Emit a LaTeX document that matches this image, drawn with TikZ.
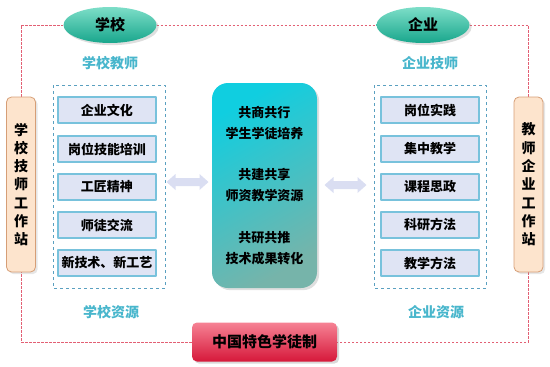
\documentclass[tikz,border=0pt]{standalone}
\usepackage{fontspec}
\newfontfamily\cjk{Noto Sans CJK SC}
\usetikzlibrary{shapes.geometric,shadows,backgrounds}
\definecolor{ellTop}{RGB}{125,222,200}
\definecolor{ellBot}{RGB}{24,166,140}
\definecolor{blueText}{RGB}{72,182,204}
\definecolor{itemFill}{RGB}{223,228,244}
\definecolor{itemLine}{RGB}{120,194,220}
\definecolor{boxLine}{RGB}{90,160,192}
\definecolor{staFill}{RGB}{253,228,205}
\definecolor{staLine}{RGB}{214,158,118}
\definecolor{midA}{RGB}{16,206,224}
\definecolor{midB}{RGB}{118,180,170}
\definecolor{redTop}{RGB}{246,130,148}
\definecolor{redBot}{RGB}{214,24,58}
\definecolor{loopLine}{RGB}{226,96,116}
\definecolor{arrFill}{RGB}{218,222,242}
\begin{document}
\begin{tikzpicture}[x=1pt, y=-1pt, line join=round,
    font=\cjk\bfseries\fontsize{13}{15}\selectfont,
    xiao/.style={ellipse, minimum width=93pt, minimum height=36pt, inner sep=0pt,
      top color=ellTop, bottom color=ellBot, drop shadow={opacity=0.25},
      font=\cjk\bfseries\fontsize{15}{17}\selectfont},
    biaoti/.style={text=blueText, font=\cjk\bfseries\fontsize{14}{16}\selectfont},
    item/.style={draw=itemLine, line width=1.1pt, fill=itemFill,
      minimum width=98pt, minimum height=26pt, inner sep=0pt},
    kuang/.style={draw=boxLine, dashed, line width=0.7pt},
    zhan/.style={draw=staLine, line width=0.8pt, fill=staFill, rounded corners=5pt,
      minimum width=29pt, minimum height=175pt, inner sep=0pt, align=center,
      drop shadow={opacity=0.2},
      font=\cjk\bfseries\fontsize{14}{18.3}\selectfont},
    shuang/.pic={\fill[arrFill] (-21,0) -- (-12,-8) -- (-12,-4) -- (12,-4) -- (12,-8)
      -- (21,0) -- (12,8) -- (12,4) -- (-12,4) -- (-12,8) -- cycle;}]
  \useasboundingbox (0,0) rectangle (550,367);
  % 上方：学校、企业
  \node[xiao] (school) at (110,25) {学校};
  \node[xiao] (firm) at (423,25) {企业};
  \node[biaoti] (lteacher) at (110,63) {学校教师};
  \node[biaoti] (rteacher) at (430,63) {企业技师};
  % 左：学校资源
  \draw[kuang] (53,85) rectangle (165,288);
  \node[item] (lw1) at (107,110) {企业文化};
  \node[item] (lw2) at (107,149) {岗位技能培训};
  \node[item] (lw3) at (107,187) {工匠精神};
  \node[item] (lw4) at (107,225) {师徒交流};
  \node[item] (lw5) at (107,263) {新技术、新工艺};
  \node[biaoti] (lres) at (111,312) {学校资源};
  % 右：企业资源
  \draw[kuang] (374,85) rectangle (486,288);
  \node[item] (rw1) at (430,110) {岗位实践};
  \node[item] (rw2) at (430,149) {集中教学};
  \node[item] (rw3) at (430,187) {课程思政};
  \node[item] (rw4) at (430,225) {科研方法};
  \node[item] (rw5) at (430,263) {教学方法};
  \node[biaoti] (rres) at (436,312) {企业资源};
  % 两侧工作站
  \node[zhan] (lsta) at (21,184.5) {学\\校\\技\\师\\工\\作\\站};
  \node[zhan] (rsta) at (528.5,184.5) {教\\师\\企\\业\\工\\作\\站};
  % 中间
  \node[rounded corners=16pt, minimum width=105pt, minimum height=205pt, align=center,
    top color=midA, bottom color=midB, shading angle=30, drop shadow={opacity=0.25},
    font=\cjk\bfseries\fontsize{13}{21}\selectfont] (mid) at (264.5,185.5)
    {共商共行\\学生学徒培养\\[20pt]共建共享\\师资教学资源\\[21pt]共研共推\\技术成果转化};
  \pic at (187.5,182) {shuang};
  \pic at (345.5,185) {shuang};
  % 下方
  \node[rounded corners=5pt, minimum width=145pt, minimum height=39pt,
    top color=redTop, bottom color=redBot, drop shadow={opacity=0.3},
    font=\cjk\bfseries\fontsize{15}{17}\selectfont] (zhidu) at (264.5,342) {中国特色学徒制};
  % 外圈虚线
  \begin{scope}[on background layer]
    \draw[loopLine, dashed, line width=0.7pt, dash pattern=on 2.5pt off 1.5pt]
      (lsta.north) |- (school.west) (school.east) -- (firm.west)
      (firm.east) -| (rsta.north) (rsta.south) |- (zhidu.east)
      (zhidu.west) -| (lsta.south);
  \end{scope}
\end{tikzpicture}
\end{document}
